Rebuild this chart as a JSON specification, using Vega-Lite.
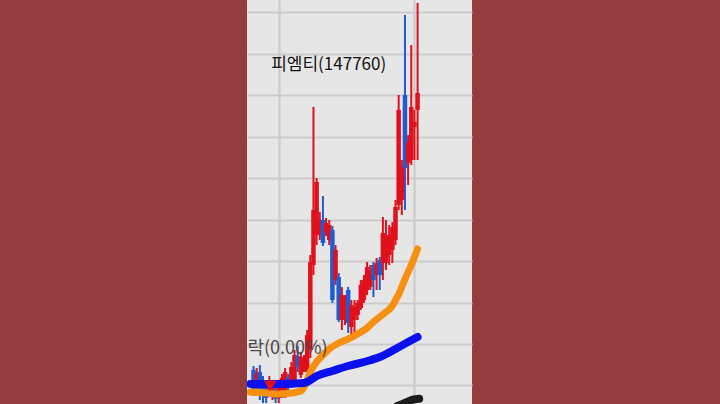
{
  "$schema": "https://vega.github.io/schema/vega-lite/v6.json",
  "width": 225,
  "height": 404,
  "autosize": {"type": "none"},
  "padding": {"left": 247, "right": 248, "top": 0, "bottom": 0},
  "background": "#943b3d",
  "config": {
    "view": {"fill": "#e6e6e6", "stroke": null},
    "axis": {"labels": false, "ticks": false, "domain": false, "title": null, "gridColor": "#cbcbcb", "gridWidth": 2.2, "gridOpacity": 1}
  },
  "datasets": {
    "candles": [
      {"i": 0, "o": 1687, "c": 1445, "h": 1735, "l": 1373, "d": "down"},
      {"i": 1, "o": 1494, "c": 1651, "h": 1711, "l": 1445, "d": "up"},
      {"i": 2, "o": 1663, "c": 1421, "h": 1747, "l": 1325, "d": "down"},
      {"i": 3, "o": 1566, "c": 1373, "h": 1614, "l": 1289, "d": "down"},
      {"i": 4, "o": 1470, "c": 1349, "h": 1518, "l": 1289, "d": "down"},
      {"i": 5, "o": 1445, "c": 1566, "h": 1614, "l": 1385, "d": "up"},
      {"i": 6, "o": 1385, "c": 1506, "h": 1566, "l": 1325, "d": "up"},
      {"i": 7, "o": 1445, "c": 1337, "h": 1482, "l": 1289, "d": "down"},
      {"i": 8, "o": 1349, "c": 1518, "h": 1566, "l": 1289, "d": "up"},
      {"i": 9, "o": 1421, "c": 1590, "h": 1639, "l": 1349, "d": "up"},
      {"i": 10, "o": 1397, "c": 1663, "h": 1711, "l": 1349, "d": "up"},
      {"i": 11, "o": 1602, "c": 1482, "h": 1639, "l": 1421, "d": "down"},
      {"i": 12, "o": 1506, "c": 1723, "h": 1783, "l": 1470, "d": "up"},
      {"i": 13, "o": 1566, "c": 1867, "h": 1928, "l": 1518, "d": "up"},
      {"i": 14, "o": 1855, "c": 1723, "h": 1976, "l": 1663, "d": "down"},
      {"i": 15, "o": 1627, "c": 1843, "h": 1904, "l": 1590, "d": "up"},
      {"i": 16, "o": 1711, "c": 1807, "h": 1867, "l": 1663, "d": "up"},
      {"i": 17, "o": 1663, "c": 2108, "h": 2169, "l": 1602, "d": "up"},
      {"i": 18, "o": 1928, "c": 2988, "h": 3072, "l": 1831, "d": "up"},
      {"i": 19, "o": 2952, "c": 3615, "h": 4856, "l": 2831, "d": "up"},
      {"i": 20, "o": 3313, "c": 3952, "h": 4000, "l": 3193, "d": "up"},
      {"i": 21, "o": 3313, "c": 3494, "h": 3590, "l": 3253, "d": "up"},
      {"i": 22, "o": 3494, "c": 3217, "h": 3783, "l": 3181, "d": "down"},
      {"i": 23, "o": 3349, "c": 3458, "h": 3518, "l": 3301, "d": "up"},
      {"i": 24, "o": 3253, "c": 3434, "h": 3494, "l": 3193, "d": "up"},
      {"i": 25, "o": 3374, "c": 2530, "h": 3422, "l": 2494, "d": "down"},
      {"i": 26, "o": 2771, "c": 3133, "h": 3193, "l": 2711, "d": "up"},
      {"i": 27, "o": 2807, "c": 2289, "h": 2855, "l": 2265, "d": "down"},
      {"i": 28, "o": 2289, "c": 2590, "h": 2687, "l": 2169, "d": "up"},
      {"i": 29, "o": 2313, "c": 2530, "h": 2590, "l": 2229, "d": "up"},
      {"i": 30, "o": 2651, "c": 2253, "h": 2687, "l": 2133, "d": "down"},
      {"i": 31, "o": 2205, "c": 2470, "h": 2530, "l": 2120, "d": "up"},
      {"i": 32, "o": 2289, "c": 2446, "h": 2530, "l": 2120, "d": "up"},
      {"i": 33, "o": 2350, "c": 2494, "h": 2530, "l": 2289, "d": "up"},
      {"i": 34, "o": 2434, "c": 2711, "h": 2771, "l": 2410, "d": "up"},
      {"i": 35, "o": 2530, "c": 2771, "h": 2831, "l": 2494, "d": "up"},
      {"i": 36, "o": 2651, "c": 2928, "h": 2988, "l": 2590, "d": "up"},
      {"i": 37, "o": 2687, "c": 2892, "h": 2952, "l": 2651, "d": "up"},
      {"i": 38, "o": 2952, "c": 2771, "h": 2988, "l": 2566, "d": "down"},
      {"i": 39, "o": 2831, "c": 2976, "h": 3036, "l": 2651, "d": "up"},
      {"i": 40, "o": 3012, "c": 2831, "h": 3048, "l": 2651, "d": "down"},
      {"i": 41, "o": 2976, "c": 3337, "h": 3530, "l": 2771, "d": "up"},
      {"i": 42, "o": 2976, "c": 3253, "h": 3494, "l": 2892, "d": "up"},
      {"i": 43, "o": 3072, "c": 3313, "h": 3434, "l": 2952, "d": "up"},
      {"i": 44, "o": 3133, "c": 3410, "h": 3470, "l": 2976, "d": "up"},
      {"i": 45, "o": 3253, "c": 3651, "h": 3735, "l": 3193, "d": "up"},
      {"i": 46, "o": 3675, "c": 4820, "h": 5000, "l": 3615, "d": "up"},
      {"i": 47, "o": 3735, "c": 4157, "h": 4217, "l": 3554, "d": "up"},
      {"i": 48, "o": 5000, "c": 4121, "h": 5964, "l": 3615, "d": "down"},
      {"i": 49, "o": 4181, "c": 4434, "h": 4518, "l": 3916, "d": "up"},
      {"i": 50, "o": 4217, "c": 4856, "h": 5603, "l": 4157, "d": "up"},
      {"i": 51, "o": 4615, "c": 4675, "h": 4820, "l": 4217, "d": "up"},
      {"i": 52, "o": 4820, "c": 5024, "h": 6109, "l": 4217, "d": "up"}
    ],
    "ma20": [
      {"i": -1, "v": 1421}, {"i": 4, "v": 1409}, {"i": 8, "v": 1397}, {"i": 12, "v": 1409},
      {"i": 15, "v": 1433}, {"i": 16, "v": 1482}, {"i": 17, "v": 1566}, {"i": 18, "v": 1663},
      {"i": 20, "v": 1783}, {"i": 22, "v": 1867}, {"i": 24, "v": 1940}, {"i": 27, "v": 2012},
      {"i": 30, "v": 2060}, {"i": 33, "v": 2120}, {"i": 36, "v": 2193}, {"i": 38, "v": 2265},
      {"i": 40, "v": 2325}, {"i": 42, "v": 2386}, {"i": 44, "v": 2458}, {"i": 45, "v": 2530},
      {"i": 46, "v": 2600}, {"i": 48, "v": 2783}, {"i": 50, "v": 2952}, {"i": 52, "v": 3145}
    ],
    "ma60": [
      {"i": -1, "v": 1518}, {"i": 8, "v": 1518}, {"i": 16, "v": 1530}, {"i": 17, "v": 1542},
      {"i": 20, "v": 1614}, {"i": 25, "v": 1675}, {"i": 30, "v": 1735}, {"i": 35, "v": 1783},
      {"i": 40, "v": 1843}, {"i": 45, "v": 1940}, {"i": 49, "v": 2024}, {"i": 52, "v": 2084}
    ],
    "blk": [
      {"i": 45.5, "v": 1250}, {"i": 48.5, "v": 1300}, {"i": 50.5, "v": 1330}, {"i": 52.5, "v": 1340}
    ],
    "marks": [
      {"i": 5.3, "v": 1494}
    ],
    "texts": [
      {"i": 5.6, "v": 5362, "t": "피엠티(147760)", "k": "title"},
      {"i": 23.5, "v": 1940, "t": "하락(0.00%)", "k": "sub"}
    ]
  },
  "encoding": {
    "x": {"field": "i", "type": "quantitative", "scale": {"domain": [-0.48, 67.66], "nice": false, "zero": false},
          "axis": {"grid": true, "values": [8, 51]}}
  },
  "layer": [
    {
      "data": {"name": "candles"},
      "mark": {"type": "rule", "strokeWidth": 2, "clip": true},
      "encoding": {
        "y": {"field": "l", "type": "quantitative", "scale": {"domain": [1277, 6145], "nice": false, "zero": false},
              "axis": {"grid": true, "values": [1500, 2000, 2500, 3000, 3500, 4000, 4500, 5000, 5500, 6000]}},
        "y2": {"field": "h"},
        "color": {"field": "d", "type": "nominal", "scale": {"domain": ["up", "down"], "range": ["#e0101c", "#1f5cd2"]}, "legend": null}
      }
    },
    {
      "data": {"name": "candles"},
      "mark": {"type": "bar", "size": 4.5, "clip": true},
      "encoding": {
        "y": {"field": "o", "type": "quantitative", "scale": {"domain": [1277, 6145], "nice": false, "zero": false}},
        "y2": {"field": "c"},
        "color": {"field": "d", "type": "nominal", "scale": {"domain": ["up", "down"], "range": ["#e0101c", "#1f5cd2"]}, "legend": null}
      }
    },
    {
      "data": {"name": "ma20"},
      "mark": {"type": "line", "color": "#f7900f", "strokeWidth": 7, "strokeCap": "round", "strokeJoin": "round", "interpolate": "monotone", "clip": true},
      "encoding": {
        "y": {"field": "v", "type": "quantitative", "scale": {"domain": [1277, 6145], "nice": false, "zero": false}}
      }
    },
    {
      "data": {"name": "ma60"},
      "mark": {"type": "line", "color": "#0a10ee", "strokeWidth": 8, "strokeCap": "round", "strokeJoin": "round", "interpolate": "monotone", "clip": true},
      "encoding": {
        "y": {"field": "v", "type": "quantitative", "scale": {"domain": [1277, 6145], "nice": false, "zero": false}}
      }
    },
    {
      "data": {"name": "blk"},
      "mark": {"type": "line", "color": "#1c1c1c", "strokeWidth": 8, "strokeCap": "round", "interpolate": "monotone", "clip": true},
      "encoding": {
        "y": {"field": "v", "type": "quantitative", "scale": {"domain": [1277, 6145], "nice": false, "zero": false}}
      }
    },
    {
      "data": {"name": "marks"},
      "mark": {"type": "point", "shape": "triangle-down", "filled": true, "size": 160, "color": "#e0101c", "opacity": 1, "clip": true},
      "encoding": {
        "y": {"field": "v", "type": "quantitative", "scale": {"domain": [1277, 6145], "nice": false, "zero": false}}
      }
    },
    {
      "data": {"name": "texts"},
      "transform": [{"filter": "datum.k === 'title'"}],
      "mark": {"type": "text", "align": "left", "baseline": "middle", "font": "Noto Sans CJK KR", "fontSize": 17, "fontWeight": "normal", "color": "#111111", "clip": true},
      "encoding": {
        "y": {"field": "v", "type": "quantitative", "scale": {"domain": [1277, 6145], "nice": false, "zero": false}},
        "text": {"field": "t"}
      }
    },
    {
      "data": {"name": "texts"},
      "transform": [{"filter": "datum.k === 'sub'"}],
      "mark": {"type": "text", "align": "right", "baseline": "middle", "font": "Noto Sans CJK KR", "fontSize": 18, "color": "#474747", "clip": true},
      "encoding": {
        "y": {"field": "v", "type": "quantitative", "scale": {"domain": [1277, 6145], "nice": false, "zero": false}},
        "text": {"field": "t"}
      }
    }
  ]
}
